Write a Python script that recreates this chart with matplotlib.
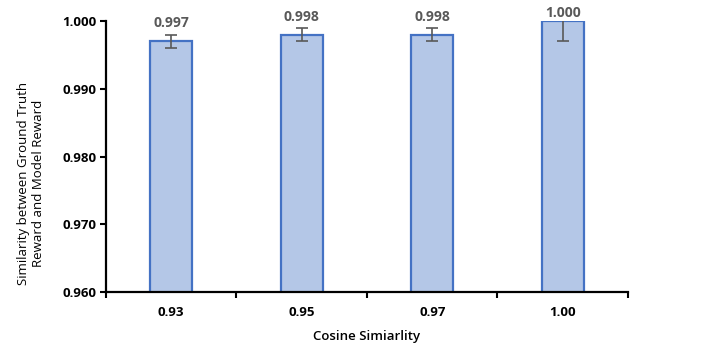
import matplotlib
matplotlib.use("Agg")
import matplotlib.pyplot as plt
import numpy as np

categories = ["0.93", "0.95", "0.97", "1.00"]
values = [0.997, 0.998, 0.998, 1.000]
errors = [0.001, 0.001, 0.001, 0.003]
value_labels = ["0.997", "0.998", "0.998", "1.000"]
y_ticks = [0.960, 0.970, 0.980, 0.990, 1.000]

plt.rcParams['font.family'] = ['Open Sans', 'DejaVu Sans']

fig = plt.figure(figsize=(7.24, 3.49), dpi=100)
ax = fig.add_axes([0.1464, 0.1633, 0.7210, 0.7765])

x = np.arange(len(categories))
ax.bar(x, values, width=0.32, color="#B4C7E7", edgecolor="#4472C4",
       linewidth=1.6, zorder=2)
ax.errorbar(x, values, yerr=errors, fmt="none", ecolor="#595959",
            elinewidth=1.2, capsize=4, capthick=1.2, zorder=3)

# value labels sit just above the bar, kept inside the top of the plot area
for xi, v, lab in zip(x, values, value_labels):
    ypos = min(v + 0.0016, 1.0001)
    ax.text(xi, ypos, lab, ha="center", va="bottom", fontsize=10,
            fontweight="bold", color="#595959", zorder=4, clip_on=False)

ax.set_xlim(-0.5, len(categories) - 0.5)
ax.set_ylim(0.960, 1.000)
ax.set_yticks(y_ticks)
ax.set_yticklabels([f"{t:.3f}" for t in y_ticks], fontsize=9.5,
                   fontweight="bold")
ax.set_xticks(x)
ax.set_xticklabels(categories, fontsize=9.5, fontweight="bold")
ax.set_xticks(np.arange(-0.5, len(categories)), minor=True)
ax.tick_params(axis="x", which="major", length=0, pad=10)
ax.tick_params(axis="x", which="minor", length=4, width=1.5, direction="out")
ax.tick_params(axis="y", length=4, width=1.5, direction="out", pad=3)

for side in ["top", "right"]:
    ax.spines[side].set_visible(False)
for side in ["left", "bottom"]:
    ax.spines[side].set_linewidth(1.6)
    ax.spines[side].set_color("black")

ax.set_xlabel("Cosine Simiarlity", fontsize=9.5, fontweight="semibold",
              labelpad=8)
ax.set_ylabel("Similarity between Ground Truth\nReward and Model Reward",
              fontsize=9.5, linespacing=1.15)
ax.yaxis.set_label_coords(-0.117, 0.40)

fig.savefig("out.png", dpi=100)
